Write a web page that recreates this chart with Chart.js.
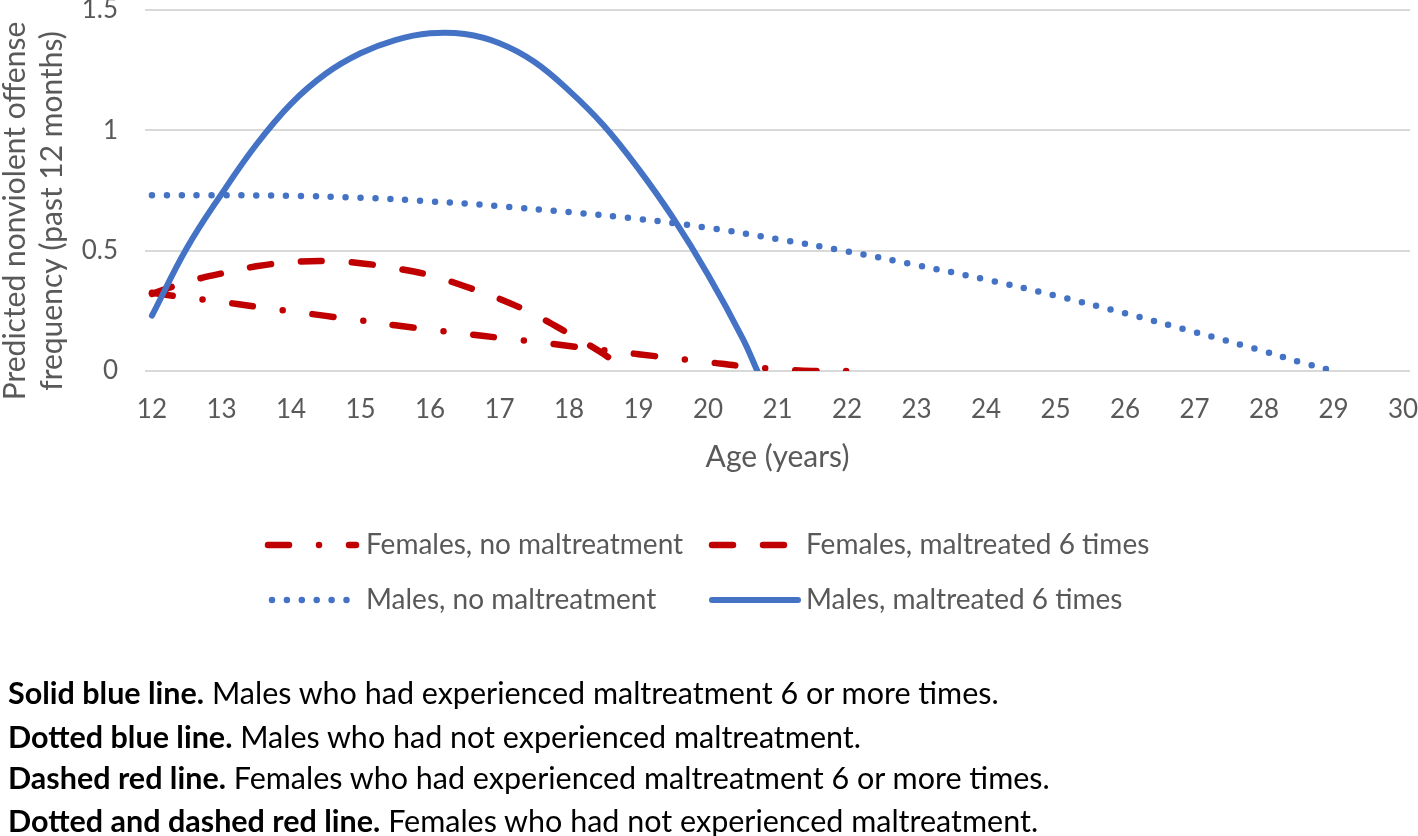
<!DOCTYPE html>
<html>
<head>
<meta charset="utf-8">
<script src="https://cdn.jsdelivr.net/npm/chart.js@4.4.0/dist/chart.umd.min.js"></script>
<style>
    body { margin: 0; background: #fff; }
    #wrap { position: relative; width: 1418px; height: 836px; }
    .note {
        position: absolute;
        left: 8px;
        font-family: Lato, "Liberation Sans", sans-serif;
        font-size: 30.5px;
        line-height: 36px;
        color: #000;
        white-space: nowrap;
    }
    .note b { font-weight: 700; }
</style>
</head>
<body>
<div id="wrap">
    <canvas id="chart" width="1418" height="836"></canvas>
    <div class="note" style="top:674px"><b>Solid blue line.</b> Males who had experienced maltreatment 6 or more times.</div>
    <div class="note" style="top:718px"><b>Dotted blue line.</b> Males who had not experienced maltreatment.</div>
    <div class="note" style="top:759px"><b>Dashed red line.</b> Females who had experienced maltreatment 6 or more times.</div>
    <div class="note" style="top:802px"><b>Dotted and dashed red line.</b> Females who had not experienced maltreatment.</div>
</div>

<script>
// data
const ageTicks = [12, 13, 14, 15, 16, 17, 18, 19, 20, 21, 22, 23, 24, 25, 26, 27, 28, 29, 30];
const yTicks = [0, 0.5, 1, 1.5];
const yTickLabels = ['0', '0.5', '1', '1.5'];
const yTitleLines = ['Predicted nonviolent offense', 'frequency (past 12 months)'];

const femNoAges = [12, 12.5, 13, 13.5, 14, 14.5, 15, 15.5, 16, 16.5, 17, 17.5, 18, 18.5, 19, 19.5, 20, 20.5, 21, 21.5, 22];
const femNo = [0.325, 0.305, 0.287, 0.267, 0.248, 0.229, 0.21, 0.19, 0.172, 0.155, 0.138, 0.122, 0.104, 0.087, 0.07, 0.053, 0.037, 0.02, 0.008, 0, 0];

const femMaltAges = [12, 12.5, 13, 13.5, 14, 14.5, 15, 15.5, 16, 16.5, 17, 17.5, 18, 18.5, 18.8];
const femMalt = [0.32, 0.37, 0.405, 0.435, 0.452, 0.457, 0.448, 0.427, 0.398, 0.352, 0.3, 0.235, 0.155, 0.07, 0];

const maleNoAges = [12, 13, 14, 15, 16, 17, 18, 19, 20, 21, 22, 23, 24, 25, 26, 27, 28, 28.5, 29];
const maleNo = [0.73, 0.73, 0.728, 0.72, 0.705, 0.685, 0.66, 0.632, 0.595, 0.548, 0.497, 0.44, 0.38, 0.313, 0.24, 0.162, 0.082, 0.038, 0];

const maleMaltAges = [12, 12.5, 13, 13.5, 14, 14.5, 15, 15.5, 16, 16.5, 17, 17.5, 18, 18.5, 19, 19.5, 20, 20.5, 20.71];
const maleMalt = [0.23, 0.51, 0.735, 0.94, 1.11, 1.235, 1.32, 1.375, 1.403, 1.4, 1.362, 1.285, 1.165, 1.02, 0.84, 0.635, 0.4, 0.135, 0];

const seriesNames = ['Females, no maltreatment', 'Females, maltreated 6 times', 'Males, no maltreatment', 'Males, maltreated 6 times'];

const RED = '#C00000';
const BLUE = '#4472C4';
const GREY = '#595959';
const FONT = 'Lato, "Liberation Sans", sans-serif';

function pts(xs, ys) {
    return xs.map((x, i) => ({ x: x, y: ys[i] }));
}

// legend drawn by hand so the dash patterns show like the original
const legendSlots = [
    { x1: 268, x2: 356, y: 545, tx: 366 },
    { x1: 712, x2: 796, y: 545, tx: 806 },
    { x1: 272, x2: 348, y: 600, tx: 366 },
    { x1: 712, x2: 798, y: 600, tx: 806 }
];

const legendPlugin = {
    id: 'handLegend',
    afterDraw(chart) {
        const ctx = chart.ctx;
        chart.data.datasets.forEach((ds, i) => {
            const s = legendSlots[i];
            ctx.save();
            ctx.strokeStyle = ds.borderColor;
            ctx.lineWidth = ds.borderWidth;
            ctx.lineCap = ds.borderCapStyle || 'butt';
            ctx.setLineDash(ds.borderDash || []);
            ctx.beginPath();
            ctx.moveTo(s.x1, s.y);
            ctx.lineTo(s.x2, s.y);
            ctx.stroke();
            ctx.setLineDash([]);
            ctx.fillStyle = GREY;
            ctx.font = '28px ' + FONT;
            ctx.textBaseline = 'middle';
            ctx.fillText(ds.label, s.tx, s.y);
            ctx.restore();
        });
    }
};

// y title sits a bit below the plot centre in the original
const yTitlePlugin = {
    id: 'yTitle',
    afterDraw(chart) {
        const ctx = chart.ctx;
        ctx.save();
        ctx.translate(0, 211);
        ctx.rotate(-Math.PI / 2);
        ctx.fillStyle = GREY;
        ctx.font = '30px ' + FONT;
        ctx.textAlign = 'center';
        ctx.textBaseline = 'middle';
        ctx.fillText(yTitleLines[0], 0, 15);
        ctx.fillText(yTitleLines[1], 0, 52);
        ctx.restore();
    }
};

const lineCanvas = document.getElementById('chart');

new Chart(lineCanvas.getContext('2d'), {
    type: 'line',
    data: {
        datasets: [
            {
                label: seriesNames[0],
                data: pts(femNoAges, femNo),
                borderColor: RED,
                borderWidth: 6.5,
                borderCapStyle: 'round',
                borderDash: [21, 30, 0, 30],
                order: 3
            },
            {
                label: seriesNames[1],
                data: pts(femMaltAges, femMalt),
                borderColor: RED,
                borderWidth: 6.5,
                borderCapStyle: 'round',
                borderDash: [21, 30],
                order: 2
            },
            {
                label: seriesNames[2],
                data: pts(maleNoAges, maleNo),
                borderColor: BLUE,
                borderWidth: 6.5,
                borderCapStyle: 'round',
                borderDash: [0, 14.9],
                order: 1
            },
            {
                label: seriesNames[3],
                data: pts(maleMaltAges, maleMalt),
                borderColor: BLUE,
                borderWidth: 6,
                borderCapStyle: 'round',
                order: 0
            }
        ]
    },
    options: {
        responsive: false,
        animation: false,
        elements: {
            point: { radius: 0 },
            line: { tension: 0.4 }
        },
        layout: {
            padding: { top: 10, right: 8, bottom: 361, left: 0 }
        },
        plugins: {
            legend: { display: false },
            tooltip: { enabled: false }
        },
        scales: {
            x: {
                type: 'linear',
                min: 11.9,
                max: 30.1,
                afterBuildTicks: function (scale) {
                    scale.ticks = ageTicks.map(v => ({ value: v }));
                },
                afterFit: function (scale) {
                    scale.height = 104;
                    scale.paddingLeft = 0;
                    scale.paddingRight = 0;
                },
                grid: { display: false, drawTicks: false },
                border: { display: false },
                ticks: {
                    color: GREY,
                    font: { family: FONT, size: 26 },
                    padding: 23,
                    maxRotation: 0,
                    autoSkip: false
                },
                title: {
                    display: true,
                    text: 'Age (years)',
                    color: GREY,
                    font: { family: FONT, size: 30 },
                    padding: 0
                }
            },
            y: {
                min: 0,
                max: 1.5,
                afterBuildTicks: function (scale) {
                    scale.ticks = yTicks.map(v => ({ value: v }));
                },
                afterFit: function (scale) {
                    scale.width = 145;
                    scale.paddingTop = 0;
                    scale.paddingBottom = 0;
                },
                grid: { color: '#d9d9d9', lineWidth: 2, drawTicks: false },
                border: { display: false },
                ticks: {
                    color: GREY,
                    font: { family: FONT, size: 26 },
                    padding: 27,
                    callback: function (value) {
                        const i = yTicks.indexOf(value);
                        return i >= 0 ? yTickLabels[i] : '';
                    }
                },
                title: { display: false }
            }
        }
    },
    plugins: [legendPlugin, yTitlePlugin]
});
</script>
</body>
</html>
